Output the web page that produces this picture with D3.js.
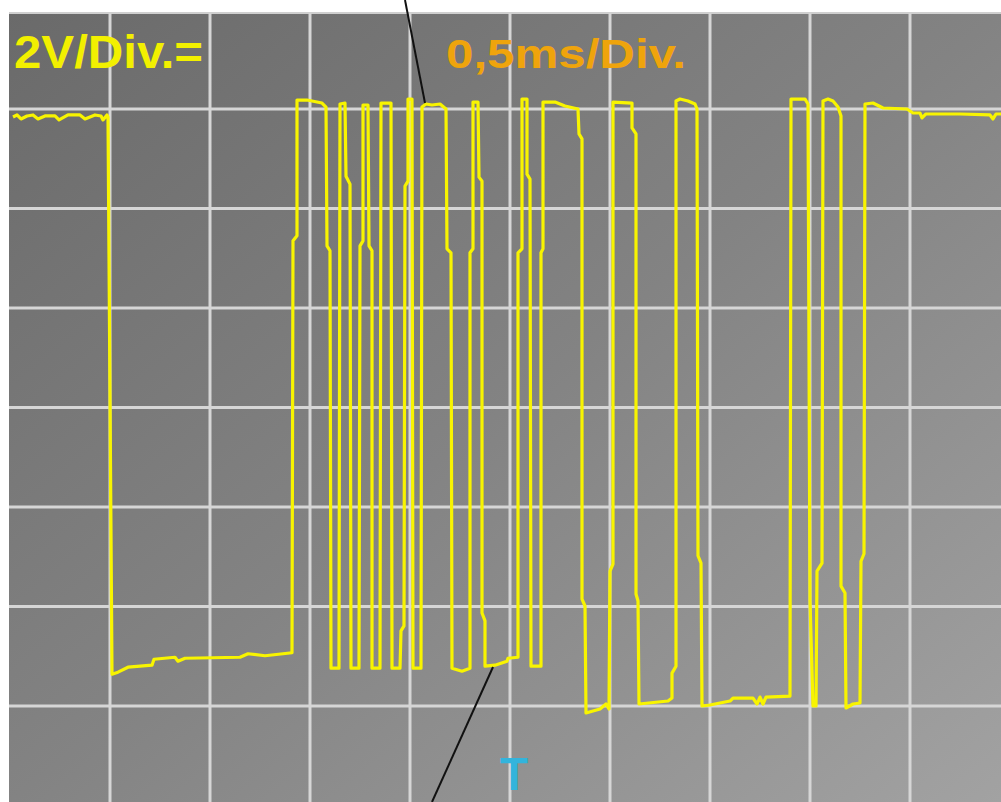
<!DOCTYPE html>
<html>
<head>
<meta charset="utf-8">
<script src="https://cdn.jsdelivr.net/npm/d3@7"></script>
<style>
  html, body { margin: 0; padding: 0; background: #fff; }
  svg { display: block; }
</style>
</head>
<body>
<main></main>
<script>
// oscilloscope capture: time in ms, level in V (2V/div, 0.5ms/div)
const timeMs = [
  0.015, 0.035, 0.055, 0.085, 0.115, 0.14, 0.175, 0.225, 0.245, 0.29, 0.35, 0.375, 0.425, 0.455, 0.465, 0.485, 0.49,
  0.51, 0.54, 0.59, 0.71, 0.72, 0.825, 0.84, 0.875, 1.15, 1.19, 1.275, 1.41,
  1.415, 1.435, 1.435, 1.485, 1.56, 1.58, 1.585, 1.6, 1.605, 1.645,
  1.65, 1.675, 1.68, 1.7, 1.705, 1.745,
  1.75, 1.765, 1.765, 1.79, 1.795, 1.81, 1.81, 1.85,
  1.855, 1.885, 1.905, 1.91, 1.95,
  1.955, 1.97, 1.975, 1.99, 1.99, 2.01, 2.015, 2.055,
  2.06, 2.08, 2.11, 2.15, 2.18, 2.185, 2.205, 2.21, 2.26, 2.3,
  2.3, 2.315, 2.315, 2.34, 2.345, 2.36, 2.36, 2.375, 2.375, 2.425, 2.485, 2.49, 2.54,
  2.54, 2.56, 2.56, 2.585, 2.585, 2.6, 2.605, 2.655,
  2.655, 2.665, 2.665, 2.725, 2.775, 2.84, 2.845, 2.86, 2.86, 2.875, 2.88, 2.95, 2.98, 2.995,
  3.0, 3.015, 3.015, 3.11, 3.11, 3.13, 3.13, 3.14, 3.145, 3.29, 3.31,
  3.31, 3.33, 3.33, 3.35, 3.39, 3.425, 3.435, 3.44, 3.455, 3.46,
  3.5, 3.6, 3.615, 3.715, 3.735, 3.75, 3.765, 3.78, 3.9,
  3.905, 3.975, 3.99, 4.0, 4.015, 4.03,
  4.035, 4.06, 4.065, 4.09, 4.115, 4.14, 4.155, 4.155, 4.175, 4.18, 4.215, 4.25,
  4.255, 4.27, 4.275, 4.315, 4.365, 4.485, 4.515, 4.55, 4.56, 4.58, 4.75, 4.9, 4.915, 4.93, 4.955
]
const volts = [
  11.84, 11.88, 11.80, 11.86, 11.88, 11.80, 11.86, 11.86, 11.78, 11.88, 11.88, 11.80, 11.88, 11.86, 11.78, 11.88, 11.84,
  0.64, 0.68, 0.78, 0.82, 0.94, 0.98, 0.90, 0.96, 0.98, 1.05, 1.01, 1.07,
  9.35, 9.45, 12.18, 12.18, 12.12, 12.04, 9.25, 9.15, 0.76, 0.76,
  12.10, 12.12, 10.65, 10.49, 0.76, 0.76,
  9.25, 9.35, 12.08, 12.08, 9.25, 9.15, 0.76, 0.76,
  12.12, 12.12, 12.12, 0.76, 0.76,
  1.51, 1.61, 10.45, 10.55, 12.20, 12.20, 0.76, 0.76,
  12.04, 12.10, 12.08, 12.10, 12.00, 9.19, 9.11, 0.76, 0.70, 0.76,
  9.11, 9.19, 12.14, 12.14, 10.63, 10.55, 1.87, 1.71, 0.80, 0.82, 0.90, 0.96, 0.98,
  9.11, 9.19, 12.20, 12.20, 10.69, 10.59, 0.80, 0.80,
  9.11, 9.19, 12.14, 12.14, 12.06, 12.00, 11.50, 11.40, 2.15, 2.01, -0.14, -0.06, 0.04, -0.06,
  2.71, 2.85, 12.14, 12.12, 11.62, 11.50, 2.25, 2.11, 0.04, 0.10, 0.16,
  0.66, 0.80, 12.16, 12.20, 12.16, 12.10, 12.00, 3.02, 2.87, 0.00,
  0.02, 0.10, 0.16, 0.16, 0.04, 0.18, 0.04, 0.18, 0.20,
  12.20, 12.20, 12.10, 2.11, 0.00, 0.00,
  2.71, 2.87, 12.16, 12.20, 12.16, 12.04, 11.86, 2.41, 2.27, -0.04, 0.04, 0.06,
  2.91, 3.06, 12.10, 12.12, 12.02, 12.00, 11.92, 11.92, 11.82, 11.90, 11.90, 11.88, 11.80, 11.90, 11.90
]
const timeTicks = [0.5, 1.0, 1.5, 2.0, 2.5, 3.0, 3.5, 4.0, 4.5]
const voltTicks = [0, 2, 4, 6, 8, 10, 12]
const voltLabel = "2V/Div.="
const timeLabel = "0,5ms/Div."
const trigLabel = "T"

const width = 1001
const height = 802
const frame = { left: 9, top: 13 }

let svg = d3.select("main")
  .append("svg")
  .attr("width", width)
  .attr("height", height)
  .attr("viewBox", [0, 0, width, height])

let x = d3.scaleLinear().domain([0, 4.955]).range([10, 1001])
let y = d3.scaleLinear().domain([0, 12]).range([706, 109])

// screen background, darker at top left
let grad = svg.append("defs").append("linearGradient")
  .attr("id", "screen")
  .attr("x1", "0").attr("y1", "0").attr("x2", "1").attr("y2", "1")
grad.append("stop").attr("offset", "0").attr("stop-color", "#6a6a6a")
grad.append("stop").attr("offset", "0.5").attr("stop-color", "#838383")
grad.append("stop").attr("offset", "1").attr("stop-color", "#a2a2a2")

svg.append("rect")
  .attr("x", frame.left)
  .attr("y", frame.top)
  .attr("width", width - frame.left)
  .attr("height", height - frame.top)
  .attr("fill", "url(#screen)")

svg.append("line")
  .attr("x1", frame.left).attr("x2", width)
  .attr("y1", frame.top).attr("y2", frame.top)
  .attr("stroke", "#cfcfcf").attr("stroke-width", 2)

// grid
svg.append("g")
  .selectAll("line")
  .data(timeTicks)
  .join("line")
  .attr("x1", d => x(d)).attr("x2", d => x(d))
  .attr("y1", frame.top).attr("y2", height)
  .attr("stroke", "#d6d6d6")
  .attr("stroke-width", 3)

svg.append("g")
  .selectAll("line")
  .data(voltTicks)
  .join("line")
  .attr("x1", frame.left).attr("x2", width)
  .attr("y1", d => y(d)).attr("y2", d => y(d))
  .attr("stroke", "#d6d6d6")
  .attr("stroke-width", 3)

// labels
svg.append("text")
  .attr("x", 14)
  .attr("y", 68)
  .attr("font-family", "Liberation Sans, Arial, sans-serif")
  .attr("font-weight", "bold")
  .attr("font-size", 46)
  .attr("textLength", 189)
  .attr("lengthAdjust", "spacingAndGlyphs")
  .attr("fill", "#f2f000")
  .text(voltLabel)

svg.append("text")
  .attr("x", 446)
  .attr("y", 68)
  .attr("font-family", "Liberation Sans, Arial, sans-serif")
  .attr("font-weight", "bold")
  .attr("font-size", 40)
  .attr("textLength", 240)
  .attr("lengthAdjust", "spacingAndGlyphs")
  .attr("fill", "#efa40c")
  .text(timeLabel)

svg.append("text")
  .attr("x", 500)
  .attr("y", 790)
  .attr("font-family", "Liberation Sans, Arial, sans-serif")
  .attr("font-weight", "bold")
  .attr("font-size", 46)
  .attr("fill", "#33b4dc")
  .text(trigLabel)

// the trace
let data = timeMs.map((t, i) => ({ t, v: volts[i] }))

let line = d3.line()
  .x(d => x(d.t))
  .y(d => y(d.v))

svg.append("path")
  .datum(data)
  .attr("d", line)
  .attr("fill", "none")
  .attr("stroke", "#f8f400")
  .attr("stroke-width", 3.2)
  .attr("stroke-linejoin", "round")

// pointer lines drawn on the photo
svg.append("line")
  .attr("x1", 405).attr("y1", 0).attr("x2", 425).attr("y2", 103)
  .attr("stroke", "#111").attr("stroke-width", 2)
svg.append("line")
  .attr("x1", 493).attr("y1", 667).attr("x2", 432).attr("y2", 802)
  .attr("stroke", "#111").attr("stroke-width", 2)
</script>
</body>
</html>
